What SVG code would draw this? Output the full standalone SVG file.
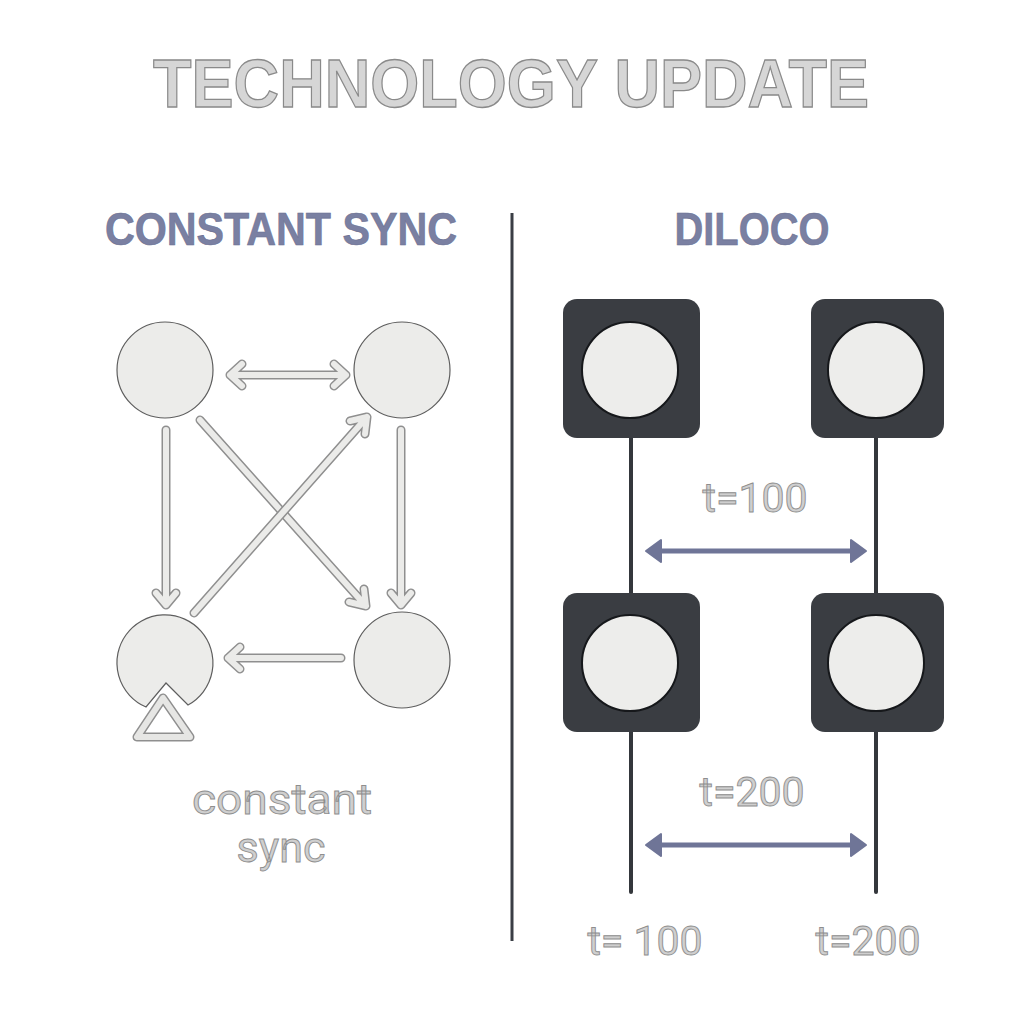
<svg xmlns="http://www.w3.org/2000/svg" width="1024" height="1024" viewBox="0 0 1024 1024">
<defs>
<style>
.title{font-family:"Liberation Sans",Arial,sans-serif;font-weight:bold;fill:#d6d6d6;stroke:#8a8a8a;stroke-width:1.3}
.head{font-family:"Liberation Sans",Arial,sans-serif;font-weight:bold;fill:#7a80a2;stroke:#6a7092;stroke-width:0.6}
.lbl{font-family:Roboto,"Liberation Sans",sans-serif;fill:#cfcfcf;stroke:#8e8e8e;stroke-width:0.9}
.node{fill:#ececea;stroke:#5e5e5e;stroke-width:1.2}
.ao{fill:none;stroke:#8f8f8f;stroke-width:9;stroke-linecap:round;stroke-linejoin:round}
.ai{fill:none;stroke:#ebebe9;stroke-width:6;stroke-linecap:round;stroke-linejoin:round}
.box{fill:#3a3d42}
.inner{fill:#ededeb;stroke:#16181b;stroke-width:2}
.rail{stroke:#34373c;stroke-width:4;stroke-linecap:round}
.bl{stroke:#6f7597;stroke-width:5;fill:none}
.bh{fill:#6f7597;stroke:#6f7597;stroke-width:2;stroke-linejoin:round}
</style>
<path id="a1" d="M230,375 L346,375 M242,364 L230,375 L242,386 M334,364 L346,375 L334,386"/>
<path id="a2" d="M166,430 L166,605 M156,593 L166,605 L176,593"/>
<path id="a3" d="M401,430 L401,605 M391,593 L401,605 L411,593"/>
<path id="a4" d="M200,420 L366,606 M349,602 L366,606 L364,589"/>
<path id="a5" d="M194,613 L367,417 M350,421 L367,417 L365,434"/>
<path id="a6" d="M341,658 L228,658 M240,647 L228,658 L240,669"/>
</defs>
<rect width="1024" height="1024" fill="#ffffff"/>

<text class="title" x="511" y="107" text-anchor="middle" font-size="69" textLength="716" lengthAdjust="spacingAndGlyphs">TECHNOLOGY UPDATE</text>
<text class="head" x="281" y="245" text-anchor="middle" font-size="46" textLength="352" lengthAdjust="spacingAndGlyphs">CONSTANT SYNC</text>
<text class="head" x="752" y="245" text-anchor="middle" font-size="46" textLength="155" lengthAdjust="spacingAndGlyphs">DILOCO</text>

<line x1="512" y1="213" x2="512" y2="941" stroke="#3a3e45" stroke-width="3"/>

<g id="connectors">
<g id="left-arrows">
<use href="#a1" class="ao"/><use href="#a1" class="ai"/>
<use href="#a2" class="ao"/><use href="#a2" class="ai"/>
<use href="#a3" class="ao"/><use href="#a3" class="ai"/>
<use href="#a4" class="ao"/><use href="#a4" class="ai"/>
<use href="#a5" class="ao"/><use href="#a5" class="ai"/>
<use href="#a6" class="ao"/><use href="#a6" class="ai"/>
</g>
<g id="rails">
<line class="rail" x1="631" y1="436" x2="631" y2="595"/>
<line class="rail" x1="631" y1="730" x2="631" y2="892"/>
<line class="rail" x1="876" y1="436" x2="876" y2="595"/>
<line class="rail" x1="876" y1="730" x2="876" y2="892"/>
</g>
<g id="sync-arrows">
<line class="bl" x1="655" y1="551" x2="857" y2="551"/>
<polygon class="bh" points="646,551 661,540 661,562"/>
<polygon class="bh" points="866,551 851,540 851,562"/>
<line class="bl" x1="655" y1="845" x2="857" y2="845"/>
<polygon class="bh" points="646,845 661,834 661,856"/>
<polygon class="bh" points="866,845 851,834 851,856"/>
</g>
</g>

<g id="node-tl"><circle class="node" cx="165" cy="370" r="48"/></g>
<g id="node-tr"><circle class="node" cx="402" cy="370" r="48"/></g>
<g id="node-bl">
<path class="node" d="M188,705 A48,48 0 1,0 146,707 L166,683 Z"/>
<polygon points="163,698 137,737 190,737" fill="#ffffff" stroke="#8f8f8f" stroke-width="9" stroke-linejoin="round"/>
<polygon points="163,698 137,737 190,737" fill="none" stroke="#e6e6e4" stroke-width="6" stroke-linejoin="round"/>
</g>
<g id="node-br"><circle class="node" cx="402" cy="660" r="48"/></g>

<text class="lbl" x="282" y="814" text-anchor="middle" font-size="43" textLength="180" lengthAdjust="spacingAndGlyphs">constant</text>
<text class="lbl" x="281" y="862" text-anchor="middle" font-size="43">sync</text>

<g id="worker-tl"><rect class="box" x="563" y="299" width="137" height="139" rx="14"/><circle class="inner" cx="630" cy="370" r="48"/></g>
<g id="worker-tr"><rect class="box" x="811" y="299" width="133" height="139" rx="14"/><circle class="inner" cx="876" cy="370" r="48"/></g>
<g id="worker-bl"><rect class="box" x="563" y="593" width="137" height="139" rx="14"/><circle class="inner" cx="630" cy="663" r="48"/></g>
<g id="worker-br"><rect class="box" x="811" y="593" width="133" height="139" rx="14"/><circle class="inner" cx="876" cy="663" r="48"/></g>

<text class="lbl" x="755" y="512" text-anchor="middle" font-size="41">t=100</text>
<text class="lbl" x="752" y="806" text-anchor="middle" font-size="41">t=200</text>
<text class="lbl" x="645" y="955" text-anchor="middle" font-size="41">t= 100</text>
<text class="lbl" x="868" y="955" text-anchor="middle" font-size="41">t=200</text>
</svg>
